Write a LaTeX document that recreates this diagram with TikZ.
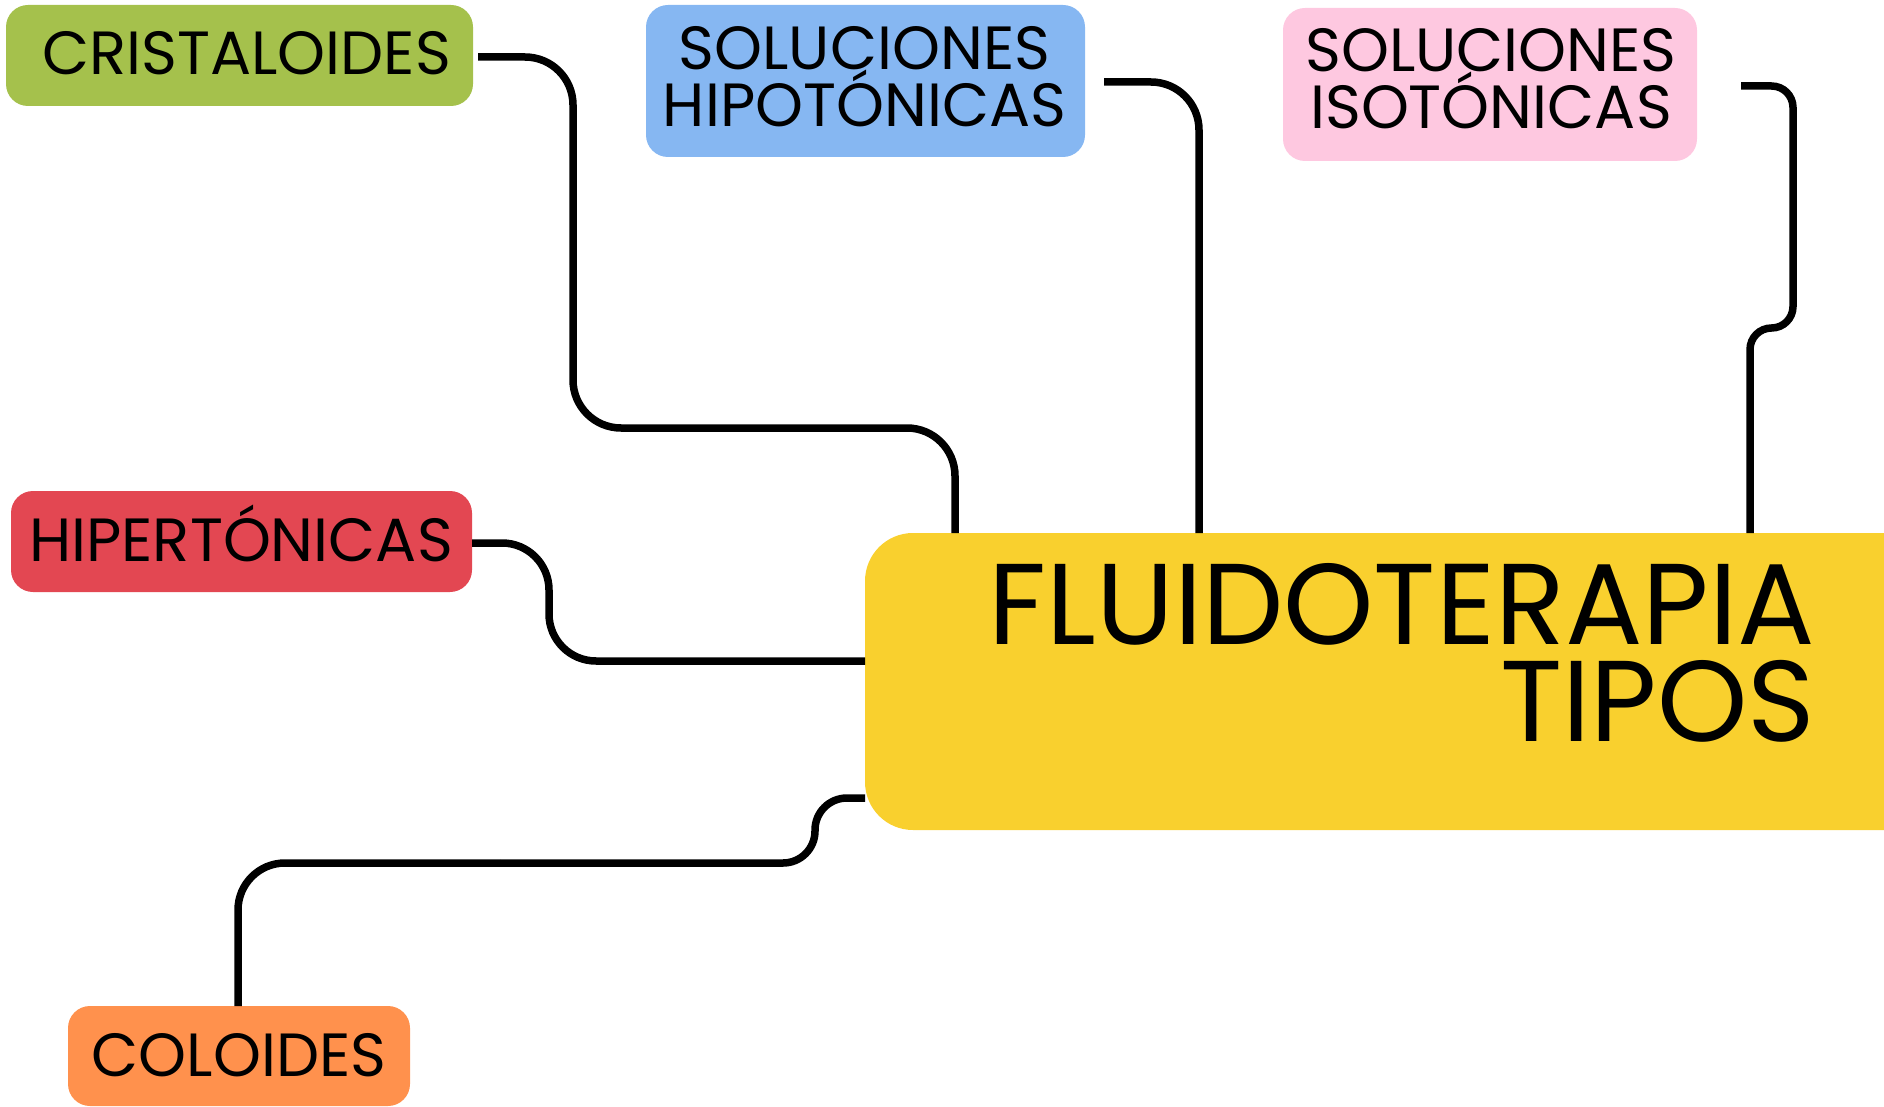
\documentclass[tikz,border=0pt]{standalone}
\usepackage{fontspec}
\newfontfamily\pop{Poppins}
\definecolor{cgreen}{RGB}{165,193,76}
\definecolor{cblue}{RGB}{134,183,242}
\definecolor{cpink}{RGB}{254,200,224}
\definecolor{cred}{RGB}{227,71,82}
\definecolor{corange}{RGB}{255,145,77}
\definecolor{cyellow}{RGB}{249,208,46}
\tikzset{
  box/.style={rounded corners=22pt, inner sep=0pt, outer sep=0pt, anchor=north west},
  lbl/.style={inner sep=0pt, outer sep=0pt, anchor=base, align=center,
    font={\pop\fontsize{61pt}{52pt}\selectfont}},
  big/.style={inner sep=0pt, outer sep=0pt, anchor=base east, align=right,
    font={\pop\fontsize{115pt}{97pt}\selectfont}},
  link/.style={line width=7.5pt, draw=black},
}
\begin{document}
\begin{tikzpicture}[x=1pt,y=-1pt]
\useasboundingbox (0,0) rectangle (1884,1107);
\clip (0,0) rectangle (1884,1107);
% boxes
\node[box, fill=cgreen, minimum width=467pt, minimum height=101pt] (cris) at (6,5) {};
\node[box, fill=cblue, minimum width=439pt, minimum height=152pt] (hipo) at (646,5) {};
\node[box, fill=cpink, minimum width=414pt, minimum height=153pt] (iso) at (1283,8) {};
\node[box, fill=cred, minimum width=461pt, minimum height=101pt] (hiper) at (11,491) {};
\node[box, fill=corange, minimum width=342pt, minimum height=100pt] (col) at (68,1006) {};
\node[box, fill=cyellow, rounded corners=48pt, minimum width=1070pt, minimum height=297pt] (main) at (865,533) {};
% labels (multi-line nodes: base = last line)
\node[lbl] (tcris) at (246.5,75) {CRISTALOIDES};
\node[lbl] (thipo) at (864.5,127) {SOLUCIONES\\HIPOTÓNICAS};
\node[lbl] (tiso) at (1491,129) {SOLUCIONES\\ISOTÓNICAS};
\node[lbl] (thiper) at (241,561) {HIPERTÓNICAS};
\node[lbl] (tcol) at (239,1076) {COLOIDES};
\node[big] (tmain) at (1815,741) {FLUIDOTERAPIA\\TIPOS};
% connector anchors
\coordinate (s1) at ([xshift=5pt]cris.east |- 0,57);
\coordinate (s2) at (1104,82);
\coordinate (s3) at (1741,86);
\coordinate (s4) at (hiper.east |- 0,543);
\coordinate (s5) at (main.west |- 0,798);
\coordinate (m5) at (500,863);
\coordinate (e1) at (955,0 |- main.north);
\coordinate (e2) at (1199,0 |- main.north);
\coordinate (e3) at (1750,0 |- main.north);
\coordinate (e4) at (main.west |- 0,661);
\coordinate (e5) at (238,0 |- col.north);
% connectors
\draw[link, rounded corners=48pt] (s1) -- (573,57) -- (573,428) -- (955,428) -- (e1);
\draw[link, rounded corners=48pt] (s2) -- (1199,82) -- (e2);
\draw[link, rounded corners=21.5pt] (s3) -- (1793,86) -- (1793,328) -- (1750,328) -- (e3);
\draw[link, rounded corners=47pt] (s4) -- (549,543) -- (549,661) -- (e4);
\draw[link, rounded corners=32pt] (s5) -- (815,798) -- (815,863) -- (m5);
\draw[link, rounded corners=47pt] (m5) -- (238,863) -- (e5);
\end{tikzpicture}
\end{document}
